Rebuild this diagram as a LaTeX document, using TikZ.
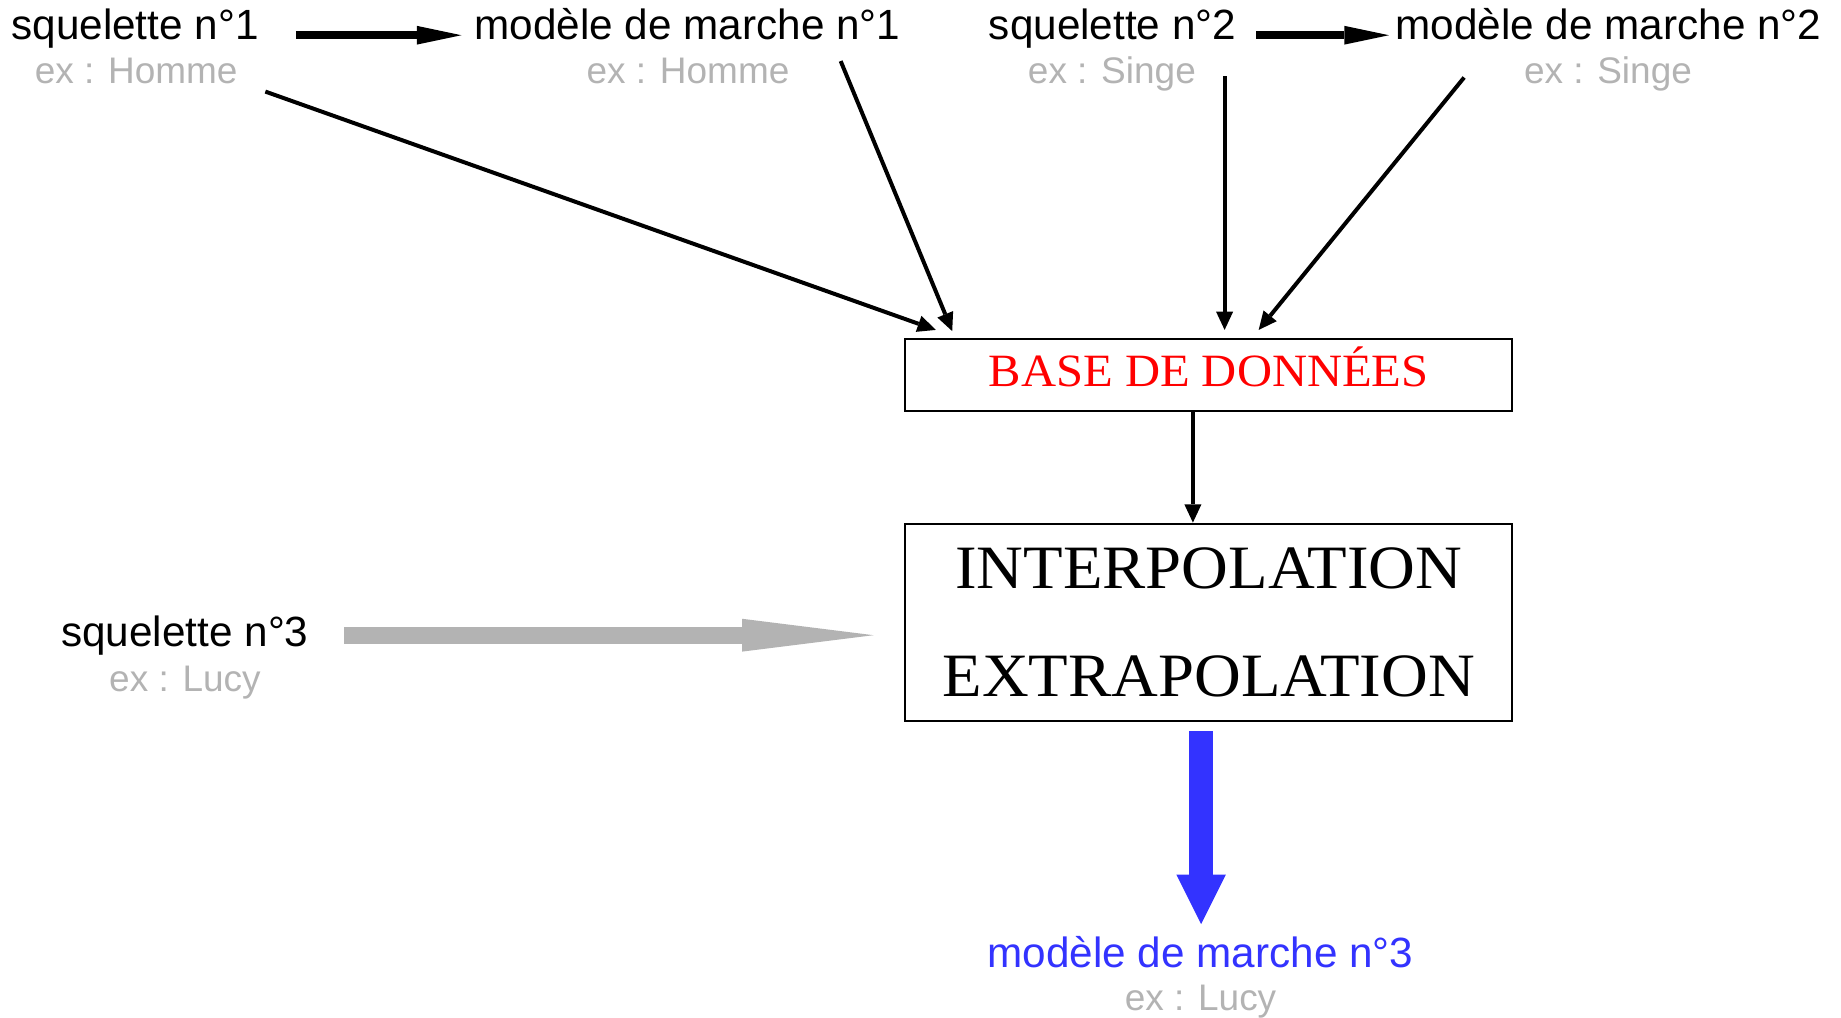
\documentclass[tikz,border=0pt]{standalone}
\usepackage{fontspec}
\setmainfont{Liberation Sans}
\newfontfamily\titlefont[FakeStretch=1.05]{Liberation Serif}
\usetikzlibrary{arrows.meta}
\definecolor{exgray}{RGB}{179,179,179}
\definecolor{outblue}{RGB}{51,51,255}
\definecolor{dbred}{RGB}{255,0,0}

\begin{document}
\begin{tikzpicture}[x=1pt,y=-1pt,
  lbl/.style={font=\fontsize{36}{40}\selectfont, inner sep=0pt, anchor=base},
  exlbl/.style={font=\fontsize{31.5}{36}\selectfont, text=exgray, inner sep=0pt, anchor=base},
  box/.style={draw, line width=1.8pt, minimum width=517pt, inner sep=0pt},
  feed/.style={line width=3.4pt, -{Triangle[length=15.5pt,width=14.5pt,line width=0pt]}},
  link/.style={line width=7pt, -{Triangle[length=38pt,width=16pt,line width=0pt]}}]

\useasboundingbox (0,0) rectangle (1568,867);

% source skeletons and walking models
\node[lbl]   (s1)   at (115,34)    {squelette n°1};
\node[exlbl] (s1ex) at (116,71)    {ex : Homme};
\node[lbl]   (m1)   at (585.5,34)  {modèle de marche n°1};
\node[exlbl] (m1ex) at (586,71)    {ex : Homme};
\node[lbl]   (s2)   at (947.5,34)  {squelette n°2};
\node[exlbl] (s2ex) at (947,71)    {ex : Singe};
\node[lbl]   (m2)   at (1370,34)   {modèle de marche n°2};
\node[exlbl] (m2ex) at (1369.5,71) {ex : Singe};

% new skeleton and resulting model
\node[lbl]   (s3)   at (157.5,551)  {squelette n°3};
\node[exlbl] (s3ex) at (157.5,589)  {ex : Lucy};
\node[lbl, text=outblue] (m3) at (1022.5,824) {modèle de marche n°3};
\node[exlbl] (m3ex) at (1022.5,861) {ex : Lucy};

% processing boxes
\node[box, minimum height=61pt, text=dbred, text height=26pt, text depth=6pt,
      font=\titlefont\fontsize{39.4}{45}\selectfont]
  (db) at (1029.5,319.5) {BASE DE DONNÉES};
\node[box, minimum height=168pt, align=center,
      font=\titlefont\fontsize{52.5}{91.5}\selectfont]
  (interp) at (1029.5,530) {INTERPOLATION\\EXTRAPOLATION};

% arrow end points
\coordinate (l1a) at (252,30);   \coordinate (l1b) at (393,30);
\coordinate (l2a) at (1070,30);  \coordinate (l2b) at (1183,30);
\coordinate (f1a) at (226,78);   \coordinate (f1b) at (797,281);
\coordinate (f2a) at (716,52);   \coordinate (f2b) at (811,282);
\coordinate (f3a) at (1043,65);  \coordinate (f3b) at (1043,281);
\coordinate (f4a) at (1247,66);  \coordinate (f4b) at (1072,281);
\coordinate (g1) at (293,541);   \coordinate (g2) at (744,541);
\coordinate (b1) at (1023,623);  \coordinate (b2) at (1023,787);

% skeleton -> model
\draw[link] (l1a) -- (l1b);
\draw[link] (l2a) -- (l2b);

% inputs to the database
\draw[feed] (f1a) -- (f1b);
\draw[feed] (f2a) -- (f2b);
\draw[feed] (f3a) -- (f3b);
\draw[feed] (f4a) -- (f4b);

% database -> interpolation
\draw[feed] (db.south -| 1016,0) -- (interp.north -| 1016,0);

% new skeleton in, new model out
\draw[exgray, line width=14.2pt, -{Triangle[length=112pt,width=28pt,line width=0pt]}] (g1) -- (g2);
\draw[outblue, line width=20pt, -{Triangle[length=42pt,width=42pt,line width=0pt]}] (b1) -- (b2);
\end{tikzpicture}
\end{document}
